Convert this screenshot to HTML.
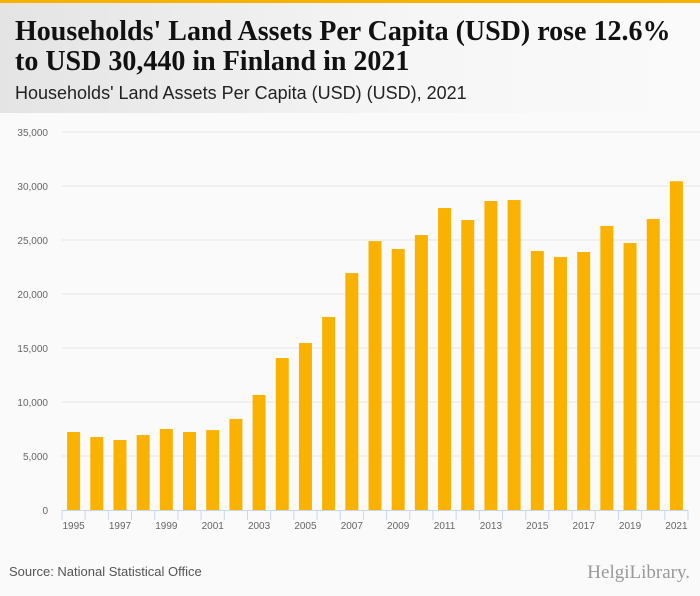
<!DOCTYPE html>
<html><head><meta charset="utf-8"><style>
body{margin:0;width:700px;height:596px;background:#fafafa;font-family:"Liberation Sans",sans-serif;overflow:hidden;position:relative}
#hdr{position:absolute;left:0;top:0;width:700px;height:113px;background:linear-gradient(90deg,#e4e4e4,#f6f6f6 60%,#fafafa);border-top:3px solid #f9b000;box-sizing:border-box}
#t{position:absolute;left:15px;top:14px;font-family:"Liberation Serif",serif;font-weight:bold;font-size:28px;line-height:30px;color:#111;white-space:nowrap}
#st{position:absolute;left:15px;top:80px;font-size:18px;color:#222;white-space:nowrap}
#src{position:absolute;left:9px;top:564px;font-size:13px;color:#555}
#logo{position:absolute;right:10px;top:562px;font-family:"Liberation Serif",serif;font-size:19px;color:#999}
</style></head><body>
<div id="hdr">
<div id="t">Households' Land Assets Per Capita (USD) rose 12.6%<br>to USD 30,440 in Finland in 2021</div>
<div id="st">Households' Land Assets Per Capita (USD) (USD), 2021</div>
</div>
<svg id="c" width="700" height="596" style="position:absolute;left:0;top:0"></svg>
<div id="src">Source: National Statistical Office</div>
<div id="logo">HelgiLibrary.</div>
<script>
const years=[1995,1996,1997,1998,1999,2000,2001,2002,2003,2004,2005,2006,2007,2008,2009,2010,2011,2012,2013,2014,2015,2016,2017,2018,2019,2020,2021];
const values=[7220,6760,6480,6940,7500,7220,7400,8430,10650,14070,15460,17870,21940,24900,24170,25460,27960,26850,28610,28700,23980,23430,23890,26300,24720,26940,30440];
const yTicks=[0,5000,10000,15000,20000,25000,30000,35000];
const NS="http://www.w3.org/2000/svg",svg=document.getElementById('c');
const x0=62,x1=688,yb=510,yt=132,ymax=35000;
const bw=(x1-x0)/years.length;
const y=v=>yb-(v/ymax)*(yb-yt);
const xc=i=>x0+bw*(i+0.5);
function mk(t,a){const e=document.createElementNS(NS,t);for(const k in a)e.setAttribute(k,a[k]);svg.appendChild(e);return e;}
yTicks.forEach(v=>{
 if(v>0){const g=mk('line',{x1:x0,x2:x1+12,y1:y(v),y2:y(v),stroke:'#e6e6e6'});
 
 }
 const t=mk('text',{x:48,y:y(v)+4,'text-anchor':'end','font-size':'10',fill:'#666','font-family':'Liberation Sans'});
 t.textContent=v.toLocaleString('en-US');
 
 
});
values.forEach((v,i)=>{
 const r=mk('rect',{x:xc(i)-6.5,y:y(v),width:13,height:yb-y(v),fill:'#fab200'});
 
 
});
const ax=mk('line',{x1:x0,x2:x1,y1:yb+0.5,y2:yb+0.5,stroke:'#ccd6eb'});


for(let i=0;i<=years.length;i++){
 const tk=mk('line',{x1:x0+bw*i,x2:x0+bw*i,y1:yb,y2:yb+10,stroke:'#ccd6eb'});
 
 
}
years.forEach((yr,i)=>{
 if(i%2)return;
 const t=mk('text',{x:xc(i),y:yb+19,'text-anchor':'middle','font-size':'10',fill:'#666','font-family':'Liberation Sans'});
 t.textContent=yr;
 
 
});
</script>
</body></html>
